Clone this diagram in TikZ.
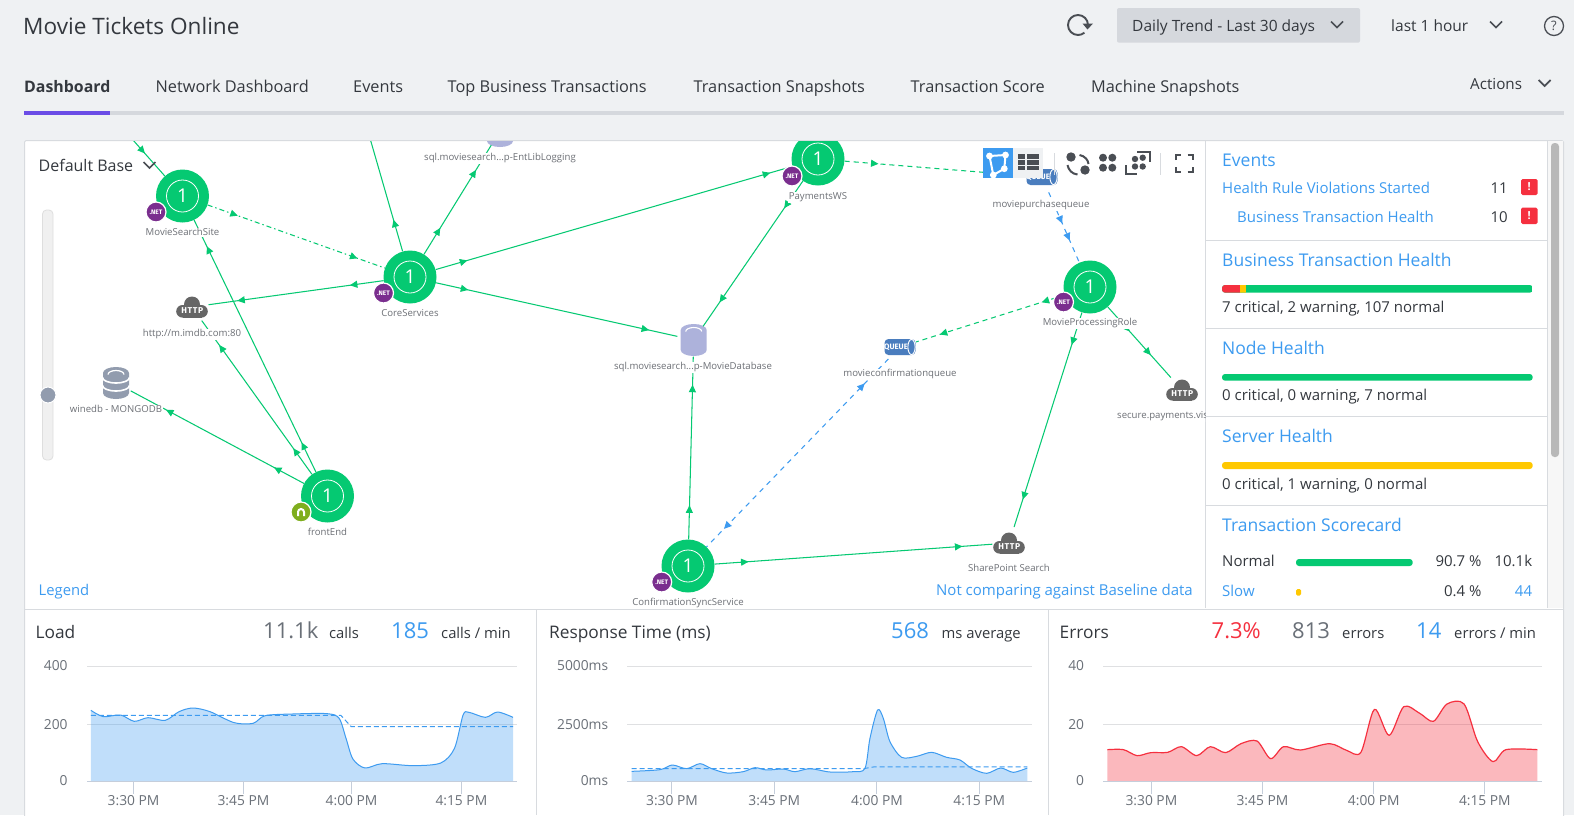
\documentclass[tikz,border=0pt]{standalone}
\usepackage{fontspec}
\setmainfont{Open Sans}
\newfontfamily\iconfont{Fira Sans}
\usetikzlibrary{arrows.meta,decorations.markings,calc}
\definecolor{pagebg}{HTML}{EFF1F3}
\definecolor{rulec}{HTML}{D8DBDF}
\definecolor{railc}{HTML}{D5D8DD}
\definecolor{appgreen}{HTML}{05C972}
\definecolor{linkblue}{HTML}{3D9BF0}
\definecolor{netpurple}{HTML}{7A2E8E}
\definecolor{nodeolive}{HTML}{7FAE1E}
\definecolor{inktext}{HTML}{34383E}
\definecolor{maptext}{HTML}{6C6F75}
\definecolor{softink}{HTML}{6A7078}
\definecolor{cloudgrey}{HTML}{666666}
\definecolor{queueblue}{HTML}{4A7DBE}
\definecolor{dblav}{HTML}{ADB2DB}
\definecolor{dbgrey}{HTML}{929CAE}
\definecolor{iconink}{HTML}{4A4E54}
\definecolor{errred}{HTML}{F5303F}
\definecolor{warnyel}{HTML}{FFC800}
\definecolor{axisc}{HTML}{C5CEDB}
\definecolor{gridc}{HTML}{DFE0E2}
\definecolor{tabpurple}{HTML}{6B4DE6}
\newcommand\szf[1]{\fontsize{#1}{#1}\selectfont}
\tikzset{
  tipg/.tip={Triangle[length=7.5pt,width=7pt]},
  sz/.style={font=\szf{#1},yshift={-(0.36*#1-2.15)*1pt}},
  szb/.style={font=\bfseries\szf{#1},yshift={-(0.36*#1-2.15)*1pt}},
  txl/.style={inner sep=0pt,anchor=mid west,text=inktext},
  txc/.style={inner sep=0pt,anchor=mid,text=inktext},
  txr/.style={inner sep=0pt,anchor=mid east,text=inktext},
  maplabel/.style={inner sep=0.6pt,anchor=mid,fill=white,text=maptext,sz=9.6},
  appnode/.style={circle,fill=appgreen,minimum size=53pt,inner sep=0pt},
  ringnode/.style={circle,draw=white,line width=0.8pt,minimum size=32pt,inner sep=0pt,text=white,font=\szf{19}},
  badgenode/.style={circle,draw=white,line width=1.2pt,minimum size=20pt,inner sep=0pt,text=white,font=\iconfont\bfseries\szf{6.5}},
  portnode/.style={circle,minimum size=33pt,inner sep=0pt},
  gline/.style={draw=appgreen,line width=1.05pt},
  gdash/.style={gline,dash pattern=on 5pt off 4pt},
  gdot/.style={gline,dash pattern=on 5pt off 3pt on 1.5pt off 3pt},
  bdash/.style={draw=linkblue,line width=1.05pt,dash pattern=on 5pt off 5pt},
  flow/.style 2 args={postaction={decorate},decoration={markings,
     mark=at position #1pt with {\arrow{tipg}},mark=at position #2pt with {\arrow{tipg}}}},
  flowone/.style={postaction={decorate},decoration={markings,
     mark=at position #1pt with {\arrow{tipg}}}},
  flowback/.style 2 args={postaction={decorate},decoration={markings,
     mark=at position #1pt with {\arrowreversed{tipg}},mark=at position #2pt with {\arrow{tipg}}}},
  iconline/.style={draw=iconink,line width=2pt},
  bar/.style={rounded corners=3pt},
  plotline/.style={line width=1pt,line join=round},
}
\newcommand\appn[3]{% name, x, y
  \node[appnode] (#1) at (#2,#3) {};
  \node[ringnode] (#1ring) at (#2,#3) {1};
}
\newcommand\netbadge[3]{\node[badgenode,fill=netpurple] (#1) at (#2,#3) {.NET};}
\newcommand\cloudicon[3]{%
  \node[portnode] (#1) at (#2,#3) {};
  \begin{scope}[shift={(#2,#3)}]
    \fill[cloudgrey] (0,-2.5) circle[radius=8];
    \fill[cloudgrey] (-9.5,4.3) circle[radius=6.3];
    \fill[cloudgrey] (9.5,4.3) circle[radius=6.3];
    \fill[cloudgrey] (-9.5,-2) rectangle (9.5,10.6);
    \node[inner sep=0pt,text=white,font=\iconfont\bfseries\szf{8.5}] (#1t) at (0.3,4) {H\kern.7pt T\kern.7pt T\kern.7pt P};
  \end{scope}}
\newcommand\queueicon[3]{%
  \node[portnode] (#1) at (#2,#3) {};
  \begin{scope}[shift={(#2,#3)}]
    \fill[queueblue,rounded corners=4pt] (-15.5,-8) rectangle (15.5,8);
    \draw[white,line width=0.9pt,fill=queueblue] (11.5,0) ellipse[x radius=3.6,y radius=7.6];
    \node[inner sep=0pt,text=white,font=\iconfont\bfseries\szf{7.8}] (#1t) at (-4,0) {QUEUE};
  \end{scope}}
\newcommand\dbsql[3]{%
  \node[portnode] (#1) at (#2,#3) {};
  \begin{scope}[shift={(#2,#3)}]
    \fill[dblav] (-13,-10) arc[start angle=180,end angle=360,x radius=13,y radius=6] -- (13,10)
       arc[start angle=0,end angle=180,x radius=13,y radius=6] -- cycle;
    \draw[white,line width=1.1pt] (-8,-8.5) arc[start angle=180,end angle=360,x radius=8,y radius=4];
  \end{scope}}
\begin{document}
\begin{tikzpicture}[x=1pt,y=-1pt]
\useasboundingbox (0,0) rectangle (1574,815);
\clip (0,0) rectangle (1574,815);
\fill[pagebg] (0,0) rectangle (1574,815);

% ---------- header
\node[txl,sz=22.6] (title) at (23,26) {Movie Tickets Online};
\draw[iconline,line width=1.9pt] (1088,25) arc[start angle=0,end angle=-310,radius=10];
\fill[iconink] (1082.5,23.5) -- (1093,23.5) -- (1087.5,29.5) -- cycle;
\fill[railc,rounded corners=2pt] (1117,8) rectangle (1360,42.7);
\node[txl,sz=15.5] (trend) at (1132,25) {Daily Trend - Last 30 days};
\draw[iconline,line width=1.7pt] (1331,21.5) -- (1337,27.5) -- (1343,21.5);
\node[txl,sz=15.5] (lasthour) at (1391,25) {last 1 hour};
\draw[iconline,line width=1.7pt] (1490,21.5) -- (1496,27.5) -- (1502,21.5);
\draw[iconink,line width=1.3pt] (1554,26) circle[radius=9.5];
\node[inner sep=0pt,text=iconink,font=\szf{13}] (help) at (1554,26) {?};

% tabs
\node[txl,szb=15.9] (tab1) at (24,86) {Dashboard};
\node[txl,sz=16.3] (tab2) at (155.5,86) {Network Dashboard};
\node[txl,sz=16.3] (tab3) at (353,86) {Events};
\node[txl,sz=16.3] (tab4) at (447.5,86) {Top Business Transactions};
\node[txl,sz=16.3] (tab5) at (693.5,86) {Transaction Snapshots};
\node[txl,sz=16.3] (tab6) at (910.5,86) {Transaction Score};
\node[txl,sz=16.3] (tab7) at (1091,86) {Machine Snapshots};
\node[txl,sz=15.2] (actions) at (1470,83) {Actions};
\draw[iconline,line width=1.7pt] (1538.6,80) -- (1544.6,86) -- (1550.6,80);
\fill[railc] (24,111) rectangle (1564,115);
\fill[tabpurple] (24,111) rectangle (110,115);

% ---------- panels
\fill[white,draw=rulec,line width=1pt,rounded corners=1.5pt] (24.5,140.5) rectangle (1563.5,830);
\draw[rulec,line width=1pt] (1205.5,141) -- (1205.5,608);
\draw[rulec,line width=1pt] (24.5,609) -- (1563.5,609);
\draw[rulec,line width=1pt] (536.5,609) -- (536.5,815);
\draw[rulec,line width=1pt] (1048.5,609) -- (1048.5,815);

% ---------- map
\begin{scope}
\clip (25,141) rectangle (1205,608.5);
\coordinate (offa) at (133,140);
\coordinate (offb) at (370.5,140);
\appn{mss}{182.5}{196}
\appn{core}{410}{277}
\appn{front}{327.5}{496}
\appn{pay}{818}{159}
\appn{mpr}{1090}{287}
\appn{css}{688}{566}
\cloudicon{imdb}{192}{307}
\cloudicon{secure}{1182}{390}
\cloudicon{share}{1009}{543}
\queueicon{purch}{1042}{177}
\queueicon{confq}{900}{347}
\dbsql{sqlent}{500}{131}
\dbsql{sqlmov}{693.7}{340}
% mongodb
\node[portnode] (wine) at (116,383) {};
\begin{scope}[shift={(116,383)}]
  \fill[dbgrey] (-13,-10) arc[start angle=180,end angle=360,x radius=13,y radius=6] -- (13,10)
     arc[start angle=0,end angle=180,x radius=13,y radius=6] -- cycle;
  \draw[white,line width=1.2pt] (-8,-8.5) arc[start angle=180,end angle=360,x radius=8,y radius=4];
  \draw[white,line width=1.6pt] (-13.5,-5.5) arc[start angle=180,end angle=0,x radius=13.5,y radius=5.5];
  \draw[white,line width=1.6pt] (-13.5,2.5) arc[start angle=180,end angle=0,x radius=13.5,y radius=5.5];
\end{scope}
% connectors
\draw[gline,flowone=18] (offa) -- (mss);
\draw[gdot,flow={32}{-29}] (mss) -- (core);
\draw[gline,flowone=33] (core) -- (offb);
\draw[gline,flow={31}{-29}] (core) -- (sqlent);
\draw[gline,flow={33}{-23}] (core) -- (pay);
\draw[gline,flow={33}{-29}] (core) -- (sqlmov);
\draw[gline,flow={34}{-29}] (core) -- (imdb);
\draw[gline,flow={33}{-29}] (front) -- (mss);
\draw[gline,flow={32}{-30}] (front) -- (imdb);
\draw[gline,flow={34}{-40}] (front) -- (wine);
\draw[gline,flow={33}{-29}] (pay) -- (sqlmov);
\draw[gdash,flow={34}{-29}] (pay) -- (purch);
\draw[bdash,flow={34}{-24}] (purch) -- (mpr);
\draw[gdash,flow={24}{-25}] (mpr) -- (confq);
\draw[gline,flow={34}{-29}] (mpr) -- (share);
\draw[gline,flow={33}{-30}] (mpr) -- (secure);
\draw[gline,flow={34}{-28}] (css) -- (sqlmov);
\draw[gline,flow={34}{-30}] (css) -- (share);
\draw[bdash,flowback={34}{-25}] (confq) -- (css);
% badges
\netbadge{bmss}{156}{212}
\netbadge{bcore}{383.5}{293}
\node[badgenode,fill=nodeolive] (bfront) at (301,512) {};
\begin{scope}[shift={(301,512)}]
  \draw[white,line width=2pt] (-3,4) -- (-3,0) arc[start angle=180,end angle=360,radius=3] -- (3,4);
\end{scope}
\netbadge{bpay}{792}{176}
\netbadge{bmpr}{1063.5}{302}
\netbadge{bcss}{661.7}{582}
% labels
\node[maplabel] (lmss) at (182.5,232) {MovieSearchSite};
\node[maplabel] (lcore) at (410,313) {CoreServices};
\node[maplabel] (lfront) at (327.5,532) {frontEnd};
\node[maplabel] (limdb) at (192,333) {http://m.imdb.com:80};
\node[maplabel] (lwine) at (116,409) {winedb - MONGODB};
\node[maplabel] (lsqlent) at (500,157) {sql.moviesearch...p-EntLibLogging};
\node[maplabel] (lsqlmov) at (693,365.7) {sql.moviesearch...p-MovieDatabase};
\node[maplabel] (lpay) at (818,195.7) {PaymentsWS};
\node[maplabel] (lpurch) at (1041,203.7) {moviepurchasequeue};
\node[maplabel] (lmpr) at (1090,322) {MovieProcessingRole};
\node[maplabel] (lconfq) at (900,372.7) {movieconfirmationqueue};
\node[maplabel,anchor=mid west] (lsecure) at (1116.4,415) {secure.payments.vis};
\node[maplabel] (lshare) at (1009,567.7) {SharePoint Search};
\node[maplabel] (lcss) at (688,601.7) {ConfirmationSyncService};
\end{scope}

% map controls
\node[txl,sz=16] (basesel) at (38.5,165) {Default Base};
\draw[iconline,line width=1.7pt] (143.5,162) -- (149.5,168) -- (155.5,162);
\fill[black!6,draw=black!13,line width=0.8pt,rounded corners=4pt] (42.5,210) rectangle (53,460);
\draw[white,line width=1pt,fill=dbgrey] (48,395) circle[radius=8];
\node[txl,text=linkblue,sz=14.8] (legend) at (38.5,590) {Legend};
\node[txr,text=linkblue,sz=15] (nobase) at (1193,590) {Not comparing against Baseline data};

% toolbar
\fill[pagebg] (1013,148) rectangle (1043.3,177.7);
\fill[linkblue] (983,148) rectangle (1013,177.7);
\draw[white,line width=2pt,line join=round] (989.5,156) -- (1005.5,155) -- (1004.3,168.7) -- (993.3,175) -- cycle;
\foreach \px/\py in {989.5/156,1005.5/155,1004.3/168.7,993.3/175} \fill[white] (\px,\py) circle[radius=3.4];
\foreach \ry in {154.4,160.2,166} {
  \fill[iconink] (1018.3,\ry) rectangle (1025.3,\ry+4.3);
  \fill[iconink] (1026.8,\ry) rectangle (1039.3,\ry+4.3);
}
\draw[rulec,line width=1.4pt] (1054.5,153) -- (1054.5,175);
\fill[iconink] (1071,157) circle[radius=4.7];
\fill[iconink] (1085,170) circle[radius=4.7];
\draw[iconline] (1079.5,155) .. controls (1085,156) and (1088,160) .. (1088.5,164);
\draw[iconline] (1067.5,165) .. controls (1068.5,170) and (1072,174) .. (1077.5,174.5);
\foreach \px/\py in {1103/157.7,1112.3/157.7,1103/167.7,1112.3/167.7} \fill[iconink] (\px,\py) circle[radius=4];
\foreach \px/\py in {1135/159,1142.7/157.7,1135/166.5,1142.7/166.5} \fill[iconink] (\px,\py) circle[radius=3.2];
\draw[iconline,line width=1.8pt] (1137,152) -- (1150,152) -- (1150,162);
\draw[iconline,line width=1.8pt] (1126,165.3) -- (1126,174.3) -- (1137,174.3);
\draw[rulec,line width=1.4pt] (1160.7,153) -- (1160.7,175);
\draw[iconline] (1176,160) -- (1176,155) -- (1181,155);
\draw[iconline] (1187.7,155) -- (1192.7,155) -- (1192.7,160);
\draw[iconline] (1176,167) -- (1176,172) -- (1181,172);
\draw[iconline] (1187.7,172) -- (1192.7,172) -- (1192.7,167);

% ---------- right panel
\fill[black!3] (1547,141) rectangle (1563,608);
\draw[rulec,line width=1pt] (1547,141) -- (1547,608);
\fill[black!28,rounded corners=3.5pt] (1551,143) rectangle (1559,457);
\foreach \dy in {240.7,328.3,416.3,505.7} \draw[rulec,line width=1pt] (1206,\dy) -- (1547,\dy);
\node[txl,text=linkblue,sz=17.5] (hevents) at (1222,160) {Events};
\node[txl,text=linkblue,sz=15] (rowa) at (1222,188) {Health Rule Violations Started};
\node[txl,text=linkblue,sz=15] (rowb) at (1237,216.7) {Business Transaction Health};
\node[txr,sz=15] (cnta) at (1508,188) {11};
\node[txr,sz=15] (cntb) at (1508,216.7) {10};
\fill[errred,rounded corners=1.5pt] (1521,179) rectangle (1537.5,195);
\fill[errred,rounded corners=1.5pt] (1521,207.7) rectangle (1537.5,224);
\node[inner sep=0pt,text=white,font=\bfseries\szf{11}] (excla) at (1529.2,187) {!};
\node[inner sep=0pt,text=white,font=\bfseries\szf{11}] (exclb) at (1529.2,215.8) {!};
\node[txl,text=linkblue,sz=17.5] (hbt) at (1222,259.5) {Business Transaction Health};
\begin{scope}
  \clip[rounded corners=3pt] (1222,285) rectangle (1532.7,292.7);
  \fill[appgreen] (1222,285) rectangle (1532.7,292.7);
  \fill[errred] (1222,285) rectangle (1240,292.7);
  \fill[warnyel] (1240,285) rectangle (1246,292.7);
\end{scope}
\node[txl,sz=15] (tbt) at (1222,306.7) {7 critical, 2 warning, 107 normal};
\node[txl,text=linkblue,sz=17.5] (hnode) at (1222,347.3) {Node Health};
\fill[appgreen,bar] (1222,374) rectangle (1532.7,380.7);
\node[txl,sz=15] (tnode) at (1222,394.7) {0 critical, 0 warning, 7 normal};
\node[txl,text=linkblue,sz=17.5] (hserver) at (1222,435.7) {Server Health};
\fill[warnyel,bar] (1222,462) rectangle (1532.7,469);
\node[txl,sz=15] (tserver) at (1222,483.7) {0 critical, 1 warning, 0 normal};
\node[txl,text=linkblue,sz=17.5] (hscore) at (1222,525) {Transaction Scorecard};
\node[txl,sz=15] (snorm) at (1222,560.7) {Normal};
\fill[appgreen,bar] (1296,559) rectangle (1412.7,566);
\node[txr,sz=15] (pnorm) at (1481.7,560.7) {90.7 \%};
\node[txr,sz=15] (cnorm) at (1532.3,560.7) {10.1k};
\node[txl,text=linkblue,sz=15] (sslow) at (1222,590.7) {Slow};
\fill[warnyel,rounded corners=1.5pt] (1296,589) rectangle (1301,595.7);
\node[txr,sz=15] (pslow) at (1481.7,590.7) {0.4 \%};
\node[txr,text=linkblue,sz=15] (cslow) at (1532.3,590.7) {44};

% ---------- Load chart
\node[txl,sz=17.3] (hload) at (35.5,632) {Load};
\node[txl,text=softink,sz=22] (loada) at (263,630) {11.1k};
\node[txl,sz=14.8] (loadb) at (329,633) {calls};
\node[txl,text=linkblue,sz=22] (loadc) at (391,630) {185};
\node[txl,sz=14.8] (loadd) at (441,633) {calls / min};
\begin{scope}[x=0.3443pt,y=-0.3333pt,shift={(0pt,-605pt)}]
  \foreach \gy in {183,358} \draw[gridc,line width=1pt] (253,\gy) -- (1503,\gy);
  \fill[linkblue,opacity=.32] (264,530) -- plot[smooth,tension=.5] coordinates {(264,316)(300,335)(350,330)(390,349)(430,338)(480,346)(520,320)(560,309)(610,320)(680,353)(735,355)(770,332)(850,327)(950,326)(985,340)(1005,400)(1025,462)(1060,489)(1110,476)(1200,482)(1280,474)(1320,430)(1345,330)(1362,322)(1410,337)(1445,321)(1490,337)} -- (1490,530) -- cycle;
  \draw[linkblue,plotline] plot[smooth,tension=.5] coordinates {(264,316)(300,335)(350,330)(390,349)(430,338)(480,346)(520,320)(560,309)(610,320)(680,353)(735,355)(770,332)(850,327)(950,326)(985,340)(1005,400)(1025,462)(1060,489)(1110,476)(1200,482)(1280,474)(1320,430)(1345,330)(1362,322)(1410,337)(1445,321)(1490,337)};
  \draw[linkblue,line width=1pt,dash pattern=on 5pt off 3pt] (264,331) -- (990,331) -- (1020,365) -- (1490,365);
  \draw[axisc,line width=1.6pt] (253,530) -- (1503,530);
  \foreach \ta/\tb/\tc in {388/3:30 PM/a,707/3:45 PM/b,1021/4:00 PM/c,1340/4:15 PM/d} {
    \draw[axisc,line width=1pt] (\ta,530) -- (\ta,566);
    \node[txc,text=softink,sz=13.8] (lt\tc) at (\ta,586) {\tb};
  }
  \node[txr,text=softink,sz=13.8] (ly1) at (197,181) {400};
  \node[txr,text=softink,sz=13.8] (ly2) at (197,357) {200};
  \node[txr,text=softink,sz=13.8] (ly3) at (197,526) {0};
\end{scope}

% ---------- Response chart
\node[txl,sz=17.3] (hresp) at (549,632) {Response Time (ms)};
\node[txl,text=linkblue,sz=22] (respa) at (891,630) {568};
\node[txl,sz=14.8] (respb) at (941.5,633) {ms average};
\begin{scope}[x=0.3333pt,y=-0.3333pt,shift={(530pt,-605pt)}]
  \foreach \gy in {183,358} \draw[gridc,line width=1pt] (292,\gy) -- (1505,\gy);
  \fill[linkblue,opacity=.32] (305,530) -- plot[smooth,tension=.5] coordinates {(305,499)(390,494)(427,480)(470,491)(510,476)(545,491)(590,504)(640,500)(675,488)(710,495)(760,492)(795,500)(840,491)(900,501)(970,500)(1005,490)(1020,400)(1043,315)(1060,340)(1080,410)(1115,457)(1160,454)(1205,442)(1250,457)(1290,465)(1325,490)(1370,505)(1412,489)(1450,502)(1492,489)} -- (1492,530) -- cycle;
  \draw[linkblue,plotline] plot[smooth,tension=.5] coordinates {(305,499)(390,494)(427,480)(470,491)(510,476)(545,491)(590,504)(640,500)(675,488)(710,495)(760,492)(795,500)(840,491)(900,501)(970,500)(1005,490)(1020,400)(1043,315)(1060,340)(1080,410)(1115,457)(1160,454)(1205,442)(1250,457)(1290,465)(1325,490)(1370,505)(1412,489)(1450,502)(1492,489)};
  \draw[linkblue,line width=1pt,dash pattern=on 5pt off 3pt] (305,491) -- (1000,491) -- (1030,486) -- (1492,486);
  \draw[axisc,line width=1.6pt] (292,530) -- (1505,530);
  \foreach \ta/\tb/\tc in {426/3:30 PM/a,733/3:45 PM/b,1041/4:00 PM/c,1348/4:15 PM/d} {
    \draw[axisc,line width=1pt] (\ta,530) -- (\ta,566);
    \node[txc,text=softink,sz=13.8] (rt\tc) at (\ta,586) {\tb};
  }
  \node[txr,text=softink,sz=13.8] (ry1) at (235,181) {5000ms};
  \node[txr,text=softink,sz=13.8] (ry2) at (235,357) {2500ms};
  \node[txr,text=softink,sz=13.8] (ry3) at (235,526) {0ms};
\end{scope}

% ---------- Errors chart
\node[txl,sz=17.3] (herr) at (1059.5,632) {Errors};
\node[txl,text=errred,sz=22] (erra) at (1211.5,630) {7.3\%};
\node[txl,text=softink,sz=22] (errb) at (1292,630) {813};
\node[txl,sz=14.8] (errc) at (1342,633) {errors};
\node[txl,text=linkblue,sz=22] (errd) at (1416,630) {14};
\node[txl,sz=14.8] (erre) at (1454,633) {errors / min};
\begin{scope}[x=0.3406pt,y=-0.3333pt,shift={(1040pt,-605pt)}]
  \foreach \gy in {183,358} \draw[gridc,line width=1pt] (185,\gy) -- (1473,\gy);
  \fill[errred,opacity=.34] (198,530) -- plot[smooth,tension=.5] coordinates {(198,434)(245,434)(285,452)(325,443)(375,442)(415,425)(460,452)(500,425)(545,443)(590,416)(637,408)(677,461)(715,425)(765,435)(850,416)(900,436)(942,442)(982,313)(1025,391)(1068,305)(1115,325)(1155,349)(1195,297)(1245,297)(1285,410)(1330,470)(1368,434)(1460,434)} -- (1460,530) -- cycle;
  \draw[errred,plotline,line width=1.2pt] plot[smooth,tension=.5] coordinates {(198,434)(245,434)(285,452)(325,443)(375,442)(415,425)(460,452)(500,425)(545,443)(590,416)(637,408)(677,461)(715,425)(765,435)(850,416)(900,436)(942,442)(982,313)(1025,391)(1068,305)(1115,325)(1155,349)(1195,297)(1245,297)(1285,410)(1330,470)(1368,434)(1460,434)};
  \draw[axisc,line width=1.6pt] (185,530) -- (1473,530);
  \foreach \ta/\tb/\tc in {327/3:30 PM/a,653/3:45 PM/b,980/4:00 PM/c,1306/4:15 PM/d} {
    \draw[axisc,line width=1pt] (\ta,530) -- (\ta,566);
    \node[txc,text=softink,sz=13.8] (et\tc) at (\ta,586) {\tb};
  }
  \node[txr,text=softink,sz=13.8] (ey1) at (130,181) {40};
  \node[txr,text=softink,sz=13.8] (ey2) at (130,357) {20};
  \node[txr,text=softink,sz=13.8] (ey3) at (130,526) {0};
\end{scope}
\end{tikzpicture}
\end{document}
